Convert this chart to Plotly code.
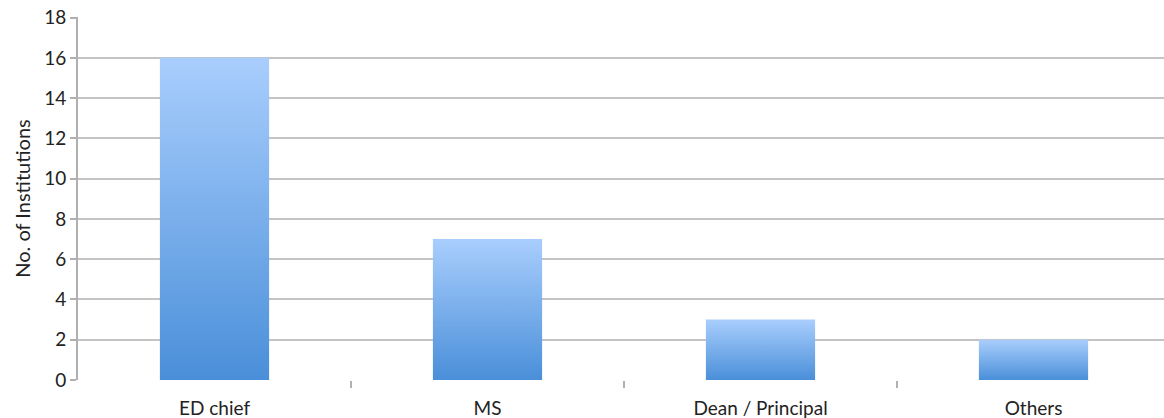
import plotly.graph_objects as go

categories = ["ED chief", "MS", "Dean / Principal", "Others"]
values = [16, 7, 3, 2]
y_ticks = [0, 2, 4, 6, 8, 10, 12, 14, 16, 18]

BAR_W = 0.40
FONT = "Lato, Open Sans, sans-serif"

fig = go.Figure()
for i, v in enumerate(values):
    x0, x1 = i - BAR_W / 2, i + BAR_W / 2
    fig.add_trace(go.Scatter(
        x=[x0, x1, x1, x0, x0],
        y=[0, 0, v, v, 0],
        mode="lines",
        line=dict(width=0),
        fill="toself",
        fillgradient=dict(
            type="vertical",
            colorscale=[[0, "#4a8fd9"], [1, "#a9cefd"]],
        ),
        hoverinfo="skip",
        showlegend=False,
    ))

fig.update_layout(
    width=1164, height=418,
    margin=dict(l=78, r=0, t=17, b=38, autoexpand=False),
    plot_bgcolor="white", paper_bgcolor="white",
    font=dict(family=FONT, size=19, color="#222222"),
    showlegend=False,
)
fig.update_xaxes(
    range=[-0.5, 3.478],
    tickvals=list(range(len(categories))),
    ticktext=categories,
    ticks="", showgrid=False, zeroline=False,
    showline=False,
    tickfont=dict(size=19),
    ticklabelstandoff=15,
    ticklabeloverflow="allow",
    fixedrange=True,
    automargin=False,
)
fig.update_xaxes(
    minor=dict(tickvals=[0.5, 1.5, 2.5], ticks="outside", ticklen=7,
               tickcolor="#b0b0b0", tickwidth=2, showgrid=False),
)
fig.update_yaxes(
    range=[0, 18.03], tickvals=y_ticks,
    showgrid=True, gridcolor="#c4c4c4", gridwidth=2,
    showline=True, linecolor="#b0b0b0", linewidth=2,
    ticks="outside", ticklen=6, tickcolor="#b0b0b0", tickwidth=2,
    zeroline=False,
    tickfont=dict(size=19),
    ticklabeloverflow="allow",
    title=dict(text="No. of Institutions", font=dict(size=20), standoff=8),
    fixedrange=True,
    automargin=False,
)
fig.write_html(
    "out.html",
    config={"displayModeBar": False, "staticPlot": True},
    post_script="document.body.style.margin='0';",
)
